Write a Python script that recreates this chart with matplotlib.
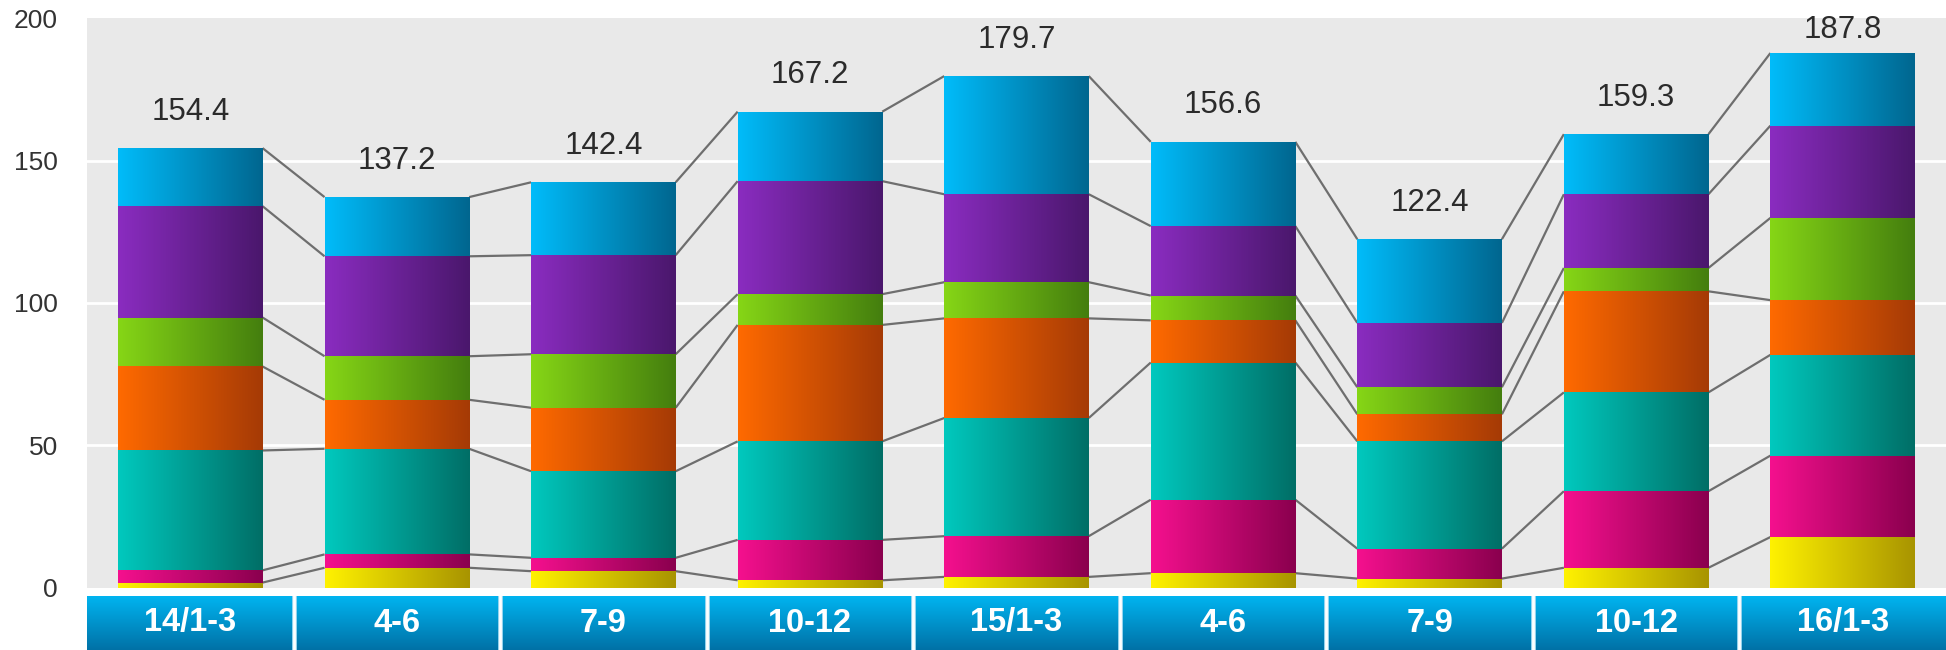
import numpy as np
import matplotlib
matplotlib.use("Agg")
import matplotlib.pyplot as plt
from matplotlib.colors import LinearSegmentedColormap

plt.rcParams['font.family'] = ['Liberation Sans', 'DejaVu Sans']

# Quarterly periods
categories = ["14/1-3", "4-6", "7-9", "10-12", "15/1-3", "4-6", "7-9", "10-12", "16/1-3"]

# Stacked series, bottom to top
yellow = [1.8, 7.0, 5.8, 2.6, 3.8, 5.1, 3.2, 7.0, 17.8]
pink = [4.3, 4.7, 4.7, 14.2, 14.3, 25.8, 10.5, 26.9, 28.6]
teal = [42.1, 37.1, 30.4, 34.6, 41.5, 48.2, 37.7, 34.7, 35.4]
orange = [29.5, 17.2, 22.3, 40.9, 35.0, 14.8, 9.5, 35.5, 19.2]
green = [17.2, 15.3, 18.8, 10.8, 12.7, 8.7, 9.5, 8.2, 28.9]
purple = [39.1, 35.1, 34.8, 39.7, 30.9, 24.4, 22.6, 25.9, 32.4]
cyan = [20.4, 20.8, 25.6, 24.4, 41.5, 29.6, 29.4, 21.1, 25.5]

yticks = [0, 50, 100, 150, 200]

series = [yellow, pink, teal, orange, green, purple, cyan]
# left (bright) -> right (dark) gradient colours per series
gradients = [
    ("#fff200", "#a89400"),
    ("#f5108e", "#8a004e"),
    ("#00c9be", "#006e66"),
    ("#ff6a00", "#a53a06"),
    ("#86d616", "#447e0e"),
    ("#8a2cc0", "#4a176c"),
    ("#00bcfa", "#00668f"),
]

W, H = 1946, 650
fig = plt.figure(figsize=(W / 100, H / 100), dpi=100)
left = 87 / W
ax = fig.add_axes([left, (H - 587.7) / H, 1 - left, (587.7 - 18.3) / H])
ax.set_facecolor("#e9e9e9")
for s in ax.spines.values():
    s.set_visible(False)

n = len(categories)
x = np.arange(n)
bw = 0.7
ax.set_xlim(-0.5, n - 0.5)
ax.set_ylim(0, 200)

for yv in yticks[1:-1]:
    ax.axhline(yv, color="white", lw=2, zorder=0.5)

grad = np.linspace(0, 1, 256).reshape(1, -1)
bottom = np.zeros(n)
levels = []
for vals, (c0, c1) in zip(series, gradients):
    vals = np.asarray(vals, dtype=float)
    cmap = LinearSegmentedColormap.from_list("g", [c0, c1])
    bars = ax.bar(x, vals, bw, bottom=bottom, color="none", edgecolor="none", zorder=3)
    for b in bars:
        x0, y0 = b.get_x(), b.get_y()
        im = ax.imshow(grad, extent=(x0, x0 + b.get_width(), y0, y0 + b.get_height()),
                       aspect="auto", cmap=cmap, interpolation="bicubic", zorder=2)
        im.set_clip_path(b)
    bottom = bottom + vals
    levels.append(bottom.copy())

# connector lines between neighbouring bars at each stack level
for lv in levels:
    for i in range(n - 1):
        ax.plot([x[i] + bw / 2, x[i + 1] - bw / 2], [lv[i], lv[i + 1]],
                color="#6e6e6e", lw=1.6, zorder=1.5, solid_capstyle="butt")

# total labels above each stack, kept inside the top of the plot area
totals = bottom
label_gap = 12.8
label_ceiling = 196.0
for xi, t in zip(x, totals):
    ax.text(xi, min(t + label_gap, label_ceiling), f"{t:.1f}",
            ha="center", va="center", fontsize=22.5, color="#2b2b2b", clip_on=False)

ax.set_xticks([])
ax.set_yticks(yticks)
ax.set_yticklabels([str(v) for v in yticks], fontsize=19, color="#333333")
ax.tick_params(axis="y", length=0, pad=21)

# category band
band = fig.add_axes([left, 0, 1 - left, (H - 596) / H])
band.set_xlim(-0.5, n - 0.5)
band.set_ylim(0, 1)
band_cmap = LinearSegmentedColormap.from_list("band", ["#0071a6", "#00b4f0"])
band.imshow(np.linspace(0, 1, 256).reshape(-1, 1), extent=(-0.5, n - 0.5, 0, 1),
            aspect="auto", cmap=band_cmap, origin="lower", interpolation="bicubic")
for i in range(n - 1):
    band.axvline(i + 0.5, color="#9fd8f0", lw=3.5)
    band.axvline(i + 0.5, color="white", lw=2)
for xi, lab in zip(x, categories):
    band.text(xi, 0.5, lab, ha="center", va="center", fontsize=23.5,
              fontweight="bold", color="white")
band.axis("off")

fig.savefig("out.png", dpi=100)
